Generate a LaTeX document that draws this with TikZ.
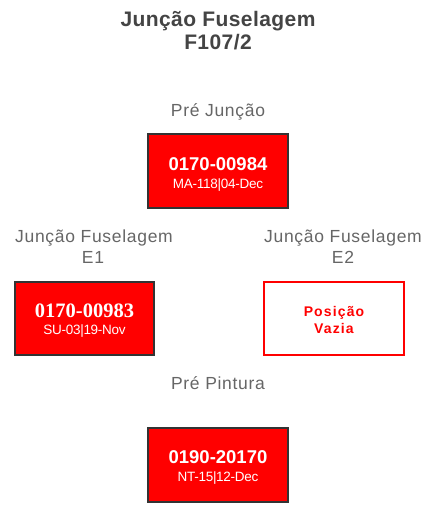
\documentclass[tikz,border=0pt]{standalone}
\usepackage{fontspec}
\setmainfont{Liberation Sans}
\newfontfamily\serifnum{Liberation Serif}
\definecolor{titlegray}{HTML}{444444}
\definecolor{labelgray}{HTML}{666666}
\definecolor{boxred}{HTML}{FF0000}
\definecolor{boxedge}{HTML}{333333}
\tikzset{
  redbox/.style={draw=boxedge, line width=1.2pt, fill=boxred},
  emptybox/.style={draw=boxred, line width=1.2pt, fill=white},
  titletext/.style={anchor=base, inner sep=0pt, text=titlegray, font=\fontsize{21}{24}\selectfont\bfseries\addfontfeature{LetterSpace=2}},
  labeltext/.style={anchor=base, inner sep=0pt, text=labelgray, font=\fontsize{17.5}{20}\selectfont\addfontfeature{LetterSpace=4}},
  mainnum/.style={anchor=base, inner sep=0pt, text=white, font=\fontsize{18.5}{21}\selectfont\bfseries},
  serifnumtext/.style={anchor=base, inner sep=0pt, text=white, font=\serifnum\fontsize{20.5}{23}\selectfont\bfseries},
  subtext/.style={anchor=base, inner sep=0pt, text=white, font=\fontsize{13.5}{16}\selectfont\addfontfeature{LetterSpace=-2}},
  emptytext/.style={anchor=base, inner sep=0pt, text=boxred, font=\fontsize{14}{16}\selectfont\bfseries\addfontfeature{LetterSpace=8}}
}
\begin{document}
\begin{tikzpicture}[x=1pt,y=-1pt]
\useasboundingbox[fill=white] (0,0) rectangle (439,506);
% title
\node[titletext] (t1) at (218,27) {Junção Fuselagem};
\node[titletext] (t2) at (218,49) {F107/2};
% Pre Juncao
\node[labeltext] (l1) at (218,116) {Pré Junção};
\path[redbox] (148,134) rectangle (288,208);
\node[mainnum] (n1) at (218,170) {0170-00984};
\node[subtext] (s1) at (218,188) {MA-118|04-Dec};
% E1
\node[labeltext] (l2a) at (94,242) {Junção Fuselagem};
\node[labeltext] (l2b) at (93,263) {E1};
\path[redbox] (15,282) rectangle (154,355);
\node[serifnumtext] (n2) at (84.5,317) {0170-00983};
\node[subtext] (s2) at (84.5,334) {SU-03|19-Nov};
% E2
\node[labeltext] (l3a) at (343,242) {Junção Fuselagem};
\node[labeltext] (l3b) at (343,263) {E2};
\path[emptybox] (264,282) rectangle (404,355);
\node[emptytext] (e1) at (334,316) {Posição};
\node[emptytext] (e2) at (334,333) {Vazia};
% Pre Pintura
\node[labeltext] (l4) at (218,389) {Pré Pintura};
\path[redbox] (148,428) rectangle (288,502);
\node[mainnum] (n3) at (218,463) {0190-20170};
\node[subtext] (s3) at (218,481) {NT-15|12-Dec};
\end{tikzpicture}
\end{document}
